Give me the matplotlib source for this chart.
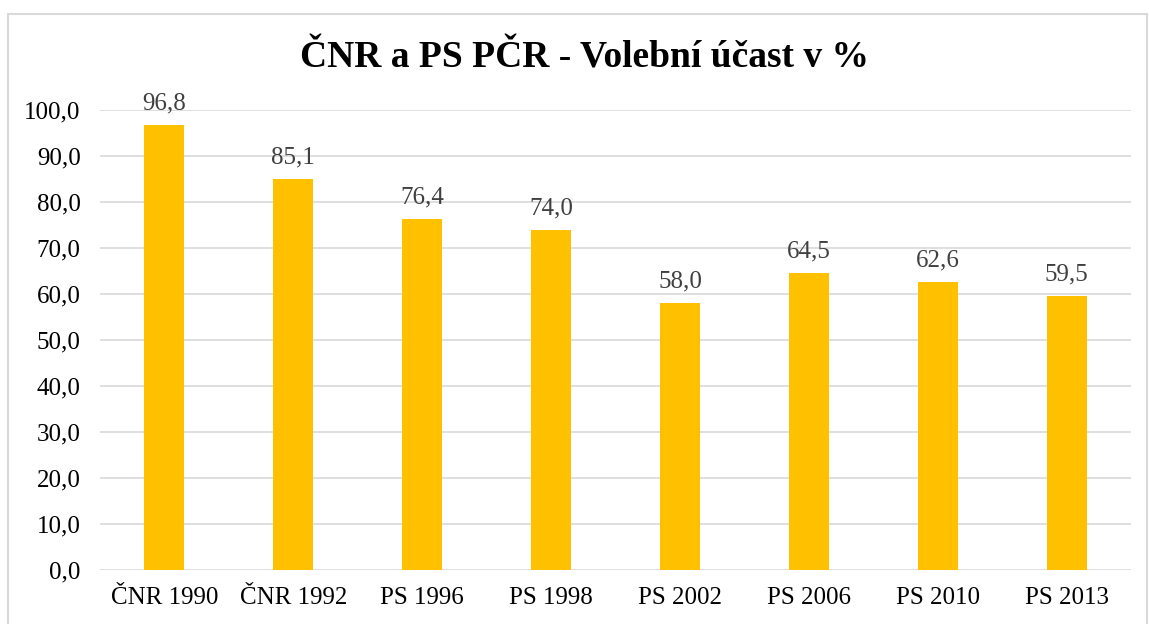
import numpy as np
import matplotlib.pyplot as plt
from matplotlib.patches import Rectangle

categories = ['ČNR 1990', 'ČNR 1992', 'PS 1996', 'PS 1998',
              'PS 2002', 'PS 2006', 'PS 2010', 'PS 2013']
turnout = [96.8, 85.1, 76.4, 74.0, 58.0, 64.5, 62.6, 59.5]
yticks = np.arange(0, 101, 10)

plt.rcParams['font.family'] = ['Liberation Serif', 'DejaVu Serif']

fig = plt.figure(figsize=(11.49, 6.24), dpi=100)
ax = fig.add_axes([100 / 1149, 1 - 570 / 624, 1031 / 1149, 460 / 624])

x = np.arange(len(categories))
ax.bar(x, turnout, width=0.31, color='#FFC000', zorder=3)

for xi, v in zip(x, turnout):
    ax.text(xi, v + 2.3, f'{v:.1f}'.replace('.', ','), ha='center', va='bottom',
            fontsize=18, color='#404040')

ax.set_xlim(-0.5, len(categories) - 0.5)
ax.set_ylim(0, 100)
ax.set_yticks(yticks)
ax.set_yticklabels([f'{t:.1f}'.replace('.', ',') for t in yticks], fontsize=18)
ax.set_xticks(x)
ax.set_xticklabels(categories, fontsize=18)
ax.tick_params(axis='y', length=0, pad=14)
ax.tick_params(axis='x', length=0, pad=12)
ax.grid(axis='y', color='#D9D9D9', linewidth=1.2, zorder=0)
for s in ax.spines.values():
    s.set_visible(False)

fig.text(584 / 1149, 1 - 58 / 624, 'ČNR a PS PČR - Volební účast v %',
         ha='center', va='center', fontsize=27, fontweight='bold')

fig.patches.append(Rectangle((8 / 1149, -0.01), 1139 / 1149, 1 - 14 / 624 + 0.01,
                             transform=fig.transFigure, fill=False,
                             edgecolor='#D9D9D9', linewidth=1.5))

fig.savefig('out.png', dpi=100)
